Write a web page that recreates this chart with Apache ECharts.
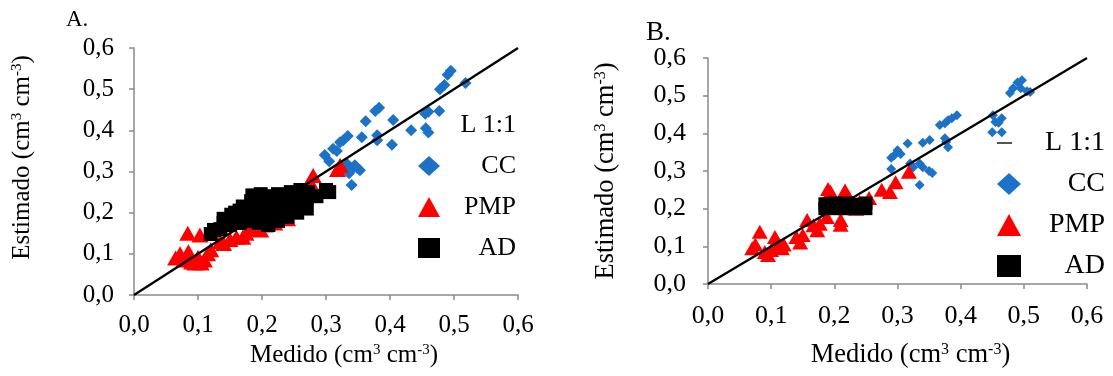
<!DOCTYPE html>
<html><head><meta charset="utf-8">
<script src="https://cdn.jsdelivr.net/npm/echarts@6/dist/echarts.min.js"></script>
<style>html,body{margin:0;padding:0;background:#fff}#c{width:1113px;height:376px}</style>
</head><body><div id="c"></div>
<script>
// ---- data ----
const tickLabels = ['0,0','0,1','0,2','0,3','0,4','0,5','0,6'];
const legendNames = ['L 1:1','CC','PMP','AD'];
const panelTitles = ['A.','B.'];
const xName = 'Medido (cm{sup|3} cm{sup|-3})';
const yName = 'Estimado (cm{sup|3} cm{sup|-3})';
const line11 = [[0,0],[0.6,0.6]];

const ccA = [[0.495,0.545],[0.49,0.535],[0.518,0.515],[0.485,0.51],[0.478,0.50],[0.46,0.445],[0.477,0.447],[0.455,0.44],[0.456,0.405],[0.46,0.395],[0.433,0.40],[0.405,0.425],[0.403,0.365],[0.383,0.455],[0.377,0.447],[0.362,0.422],[0.38,0.388],[0.38,0.376],[0.356,0.383],[0.334,0.386],[0.327,0.376],[0.322,0.371],[0.317,0.35],[0.311,0.355],[0.298,0.34],[0.305,0.325],[0.333,0.318],[0.34,0.305],[0.348,0.31],[0.353,0.303],[0.336,0.296],[0.34,0.267],[0.345,0.315]];
const pmpA = [[0.065,0.09],[0.072,0.10],[0.078,0.085],[0.084,0.15],[0.085,0.105],[0.09,0.08],[0.095,0.078],[0.103,0.146],[0.1,0.092],[0.105,0.078],[0.11,0.085],[0.115,0.1],[0.12,0.11],[0.135,0.13],[0.14,0.125],[0.15,0.135],[0.16,0.14],[0.17,0.14],[0.175,0.15],[0.18,0.16],[0.19,0.165],[0.198,0.158],[0.205,0.17],[0.214,0.18],[0.22,0.175],[0.24,0.185],[0.275,0.275],[0.28,0.29],[0.322,0.315],[0.318,0.305]];
const adA = [[0.12,0.148],[0.125,0.158],[0.135,0.16],[0.14,0.175],[0.14,0.185],[0.15,0.17],[0.152,0.195],[0.158,0.2],[0.165,0.175],[0.165,0.205],[0.17,0.215],[0.178,0.18],[0.18,0.205],[0.183,0.228],[0.185,0.242],[0.195,0.175],[0.195,0.2],[0.195,0.225],[0.198,0.245],[0.21,0.17],[0.21,0.195],[0.212,0.22],[0.21,0.24],[0.225,0.18],[0.225,0.205],[0.228,0.23],[0.225,0.245],[0.24,0.19],[0.24,0.215],[0.242,0.235],[0.245,0.25],[0.255,0.2],[0.255,0.225],[0.258,0.245],[0.26,0.255],[0.27,0.21],[0.27,0.235],[0.272,0.25],[0.285,0.24],[0.3,0.255],[0.305,0.25]];

const ccB = [[0.497,0.541],[0.49,0.535],[0.495,0.52],[0.483,0.52],[0.478,0.507],[0.51,0.51],[0.505,0.512],[0.451,0.448],[0.465,0.44],[0.455,0.43],[0.46,0.428],[0.45,0.403],[0.465,0.403],[0.394,0.448],[0.386,0.44],[0.38,0.435],[0.367,0.422],[0.375,0.427],[0.375,0.387],[0.377,0.377],[0.38,0.363],[0.351,0.382],[0.34,0.375],[0.316,0.373],[0.3,0.355],[0.295,0.342],[0.29,0.335],[0.305,0.345],[0.335,0.32],[0.34,0.31],[0.35,0.30],[0.355,0.295],[0.32,0.32],[0.325,0.31],[0.335,0.263],[0.29,0.305]];
const pmpB = [[0.07,0.095],[0.075,0.105],[0.082,0.139],[0.09,0.085],[0.095,0.077],[0.1,0.09],[0.106,0.125],[0.11,0.1],[0.117,0.095],[0.12,0.105],[0.14,0.125],[0.146,0.11],[0.15,0.13],[0.157,0.17],[0.167,0.156],[0.177,0.16],[0.173,0.143],[0.188,0.178],[0.19,0.252],[0.194,0.245],[0.21,0.17],[0.21,0.157],[0.217,0.248],[0.235,0.2],[0.24,0.218],[0.255,0.228],[0.275,0.25],[0.288,0.244],[0.297,0.27],[0.318,0.298]];
const adB = [[0.185,0.2],[0.185,0.213],[0.195,0.205],[0.2,0.215],[0.205,0.2],[0.21,0.21],[0.215,0.2],[0.22,0.215],[0.225,0.205],[0.23,0.2],[0.235,0.212],[0.24,0.203],[0.245,0.21],[0.25,0.2],[0.25,0.215]];

// ---- styling ----
const FONT = 'Liberation Serif';
const BLUE = '#1b72c6', RED = '#ff0000', BLACK = '#000000', AXIS = '#8a8a8a';

const panels = [
  {grid:{left:134, top:48, width:384, height:247}, tick:25, name:25, xGap:47, yGap:99, xPad:[0,0,0,36], yPad:[0,0,0,28], yMargin:20, xMargin:18,
   cc:ccA, pmp:pmpA, ad:adA, ccSize:12, pmpSize:[17,15], adSize:14,
   legend:{left:418, top:112, itemWidth:22, itemHeight:20, itemGap:15, textW:71, font:26, lineIcon:'rect', lineColor:'rgba(0,0,0,0)'},
   title:{left:66, top:8, size:23}},
  {grid:{left:708, top:58, width:379, height:226}, tick:26, name:26.5, xGap:58, yGap:88, xPad:[0,0,0,26], yPad:[0,0,0,0], yMargin:22, xMargin:19,
   cc:ccB, pmp:pmpB, ad:adB, ccSize:10, pmpSize:[16,14], adSize:13,
   legend:{left:997, top:129, itemWidth:24, itemHeight:22, itemGap:13, textW:79, font:28, lineIcon:'path://M0,10h15v2h-15z M24,0h0.01v0.01h-0.01z M0,22h0.01v0.01h-0.01z', lineColor:'#555'},
   title:{left:646, top:19, size:27}}
];

const option = {animation:false, backgroundColor:'#fff',
  title:[], grid:[], xAxis:[], yAxis:[], legend:[], series:[]};

panels.forEach((p, i) => {
  option.title.push({text: panelTitles[i], left: p.title.left, top: p.title.top, padding:0,
    textStyle:{fontFamily:FONT, fontWeight:'normal', fontSize:p.title.size, color:'#000'}});
  option.grid.push(Object.assign({containLabel:false}, p.grid));
  const axisCommon = (margin) => ({type:'value', min:0, max:0.6, interval:0.1,
    splitLine:{show:false},
    axisLine:{show:true, lineStyle:{color:AXIS, width:1.5}},
    axisTick:{show:true, inside:false, length:5, lineStyle:{color:AXIS, width:1.5}},
    axisLabel:{margin:margin, color:'#000', fontFamily:FONT, fontSize:p.tick,
      formatter: v => tickLabels[Math.round(v*10)]}});
  const sup = {sup:{fontFamily:FONT, fontSize:Math.round(p.name*0.6), color:'#000', verticalAlign:'top', lineHeight:Math.round(p.name*0.6)}};
  option.xAxis.push(Object.assign(axisCommon(p.xMargin), {gridIndex:i,
    name:xName, nameLocation:'middle', nameGap:p.xGap,
    nameTextStyle:{fontFamily:FONT, fontSize:p.name, color:'#000', padding:p.xPad, rich:sup}}));
  option.yAxis.push(Object.assign(axisCommon(p.yMargin), {gridIndex:i,
    name:yName, nameLocation:'middle', nameGap:p.yGap, nameRotate:90,
    nameTextStyle:{fontFamily:FONT, fontSize:p.name, color:'#000', padding:p.yPad, rich:sup}}));
  const L = p.legend;
  option.legend.push({orient:'vertical', left:L.left, top:L.top, padding:0,
    itemWidth:L.itemWidth, itemHeight:L.itemHeight, itemGap:L.itemGap, selectedMode:false,
    formatter:'{r|{name}}',
    textStyle:{rich:{r:{width:L.textW, align:'right', fontFamily:FONT, fontSize:L.font, lineHeight:28, color:'#000'}}},
    data:[
      {name:legendNames[0], icon:L.lineIcon, itemStyle:{color:L.lineColor, borderWidth:0}},
      {name:legendNames[1], icon:'diamond', itemStyle:{color:BLUE}},
      {name:legendNames[2], icon:'triangle', itemStyle:{color:RED}},
      {name:legendNames[3], icon:'rect', itemStyle:{color:BLACK}}
    ]});
  option.series.push(
    {name:legendNames[1], type:'scatter', xAxisIndex:i, yAxisIndex:i, data:p.cc, symbol:'diamond', symbolSize:p.ccSize, itemStyle:{color:BLUE, opacity:1}},
    {name:legendNames[2], type:'scatter', xAxisIndex:i, yAxisIndex:i, data:p.pmp, symbol:'triangle', symbolSize:p.pmpSize, itemStyle:{color:RED, opacity:1}},
    {name:legendNames[0], type:'line', xAxisIndex:i, yAxisIndex:i, data:line11, symbol:'none', lineStyle:{color:'#000', width:2.3}, itemStyle:{color:'#000'}},
    {name:legendNames[3], type:'scatter', xAxisIndex:i, yAxisIndex:i, data:p.ad, symbol:'rect', symbolSize:p.adSize, itemStyle:{color:BLACK, opacity:1}}
  );
});

const chart = echarts.init(document.getElementById('c'), null, {renderer:'canvas'});
chart.setOption(option);
</script>
</body></html>
